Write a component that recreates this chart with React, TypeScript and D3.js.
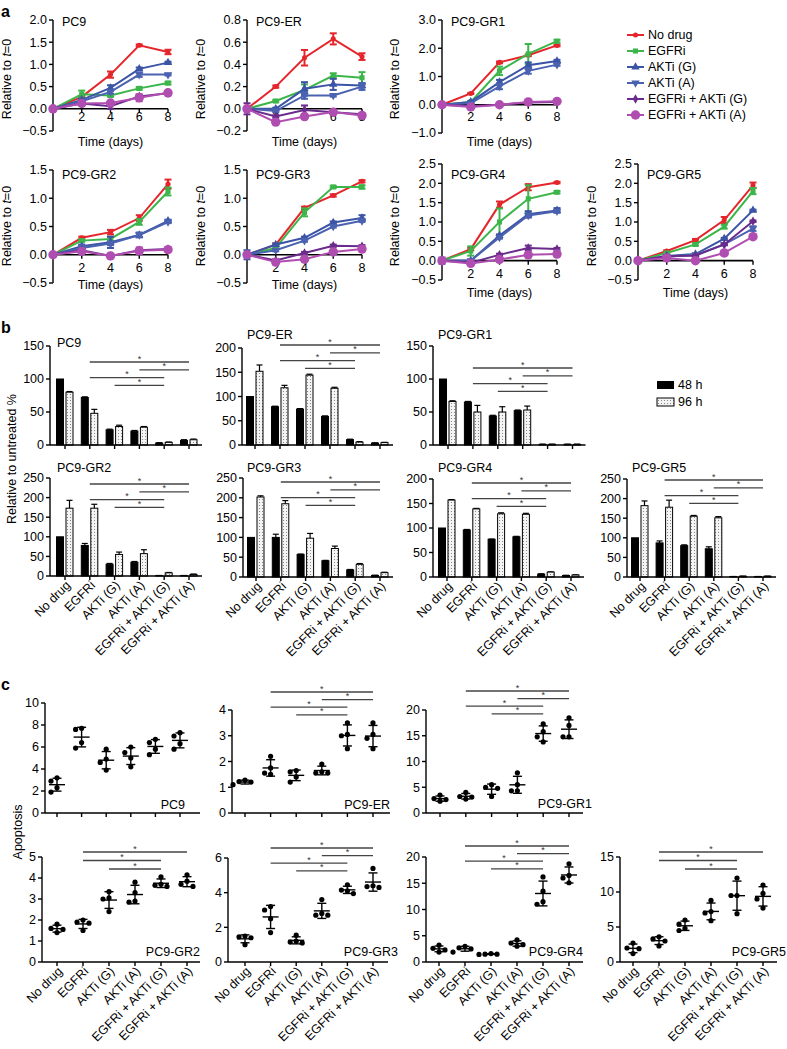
import React from "react";
import * as d3 from "d3";

const FONT = "'Liberation Sans', Arial, Helvetica, sans-serif";

// ---------- shared categories ----------
const days = [0, 2, 4, 6, 8];
const treatments = ["No drug", "EGFRi", "AKTi (G)", "AKTi (A)", "EGFRi + AKTi (G)", "EGFRi + AKTi (A)"];
const sigFour = [[1, 5], [3, 5], [1, 4], [2, 4]];
const sigThree = [[1, 5], [1, 4], [2, 4]];

// ---------- panel a: growth relative to t=0 (rows = treatments, cols = days) ----------
const gPC9 = [
  [0, 0.27, 0.77, 1.43, 1.28],
  [0, 0.33, 0.3, 0.46, 0.58],
  [0, 0.2, 0.47, 0.9, 1.04],
  [0, 0.17, 0.38, 0.77, 0.77],
  [0, 0.12, 0.06, 0.28, 0.35],
  [0, 0.12, 0.13, 0.25, 0.36],
];
const gPC9Err = [
  [0, 0.02, 0.07, 0.02, 0.05],
  [0, 0.08, 0.03, 0.03, 0.03],
  [0, 0.03, 0.06, 0.03, 0.02],
  [0, 0.03, 0.04, 0.05, 0.02],
  [0, 0.03, 0.06, 0.03, 0.03],
  [0, 0.03, 0.03, 0.08, 0.03],
];
const gER = [
  [0, 0.2, 0.46, 0.63, 0.47],
  [0, 0.07, 0.17, 0.3, 0.28],
  [0, 0.0, 0.18, 0.22, 0.21],
  [0, -0.02, 0.12, 0.12, 0.2],
  [0, -0.07, -0.01, -0.03, -0.05],
  [0, -0.12, -0.07, -0.03, -0.06],
];
const gERErr = [
  [0, 0.01, 0.07, 0.05, 0.03],
  [0, 0.01, 0.05, 0.02, 0.05],
  [0, 0.01, 0.06, 0.05, 0.02],
  [0, 0.01, 0.03, 0.01, 0.03],
  [0.05, 0.01, 0.04, 0.01, 0.01],
  [0, 0.01, 0.02, 0.01, 0.01],
];
const gGR1 = [
  [0, 0.4, 1.5, 1.75, 2.1],
  [0, 0.1, 1.2, 1.8, 2.25],
  [0, 0.1, 0.8, 1.4, 1.55],
  [0, 0.05, 0.65, 1.2, 1.42],
  [0, -0.05, 0.0, 0.08, 0.1],
  [0, -0.08, 0.0, 0.1, 0.12],
];
const gGR1Err = [
  [0, 0.02, 0.03, 0.03, 0.03],
  [0, 0.03, 0.15, 0.35, 0.05],
  [0, 0.03, 0.08, 0.1, 0.04],
  [0, 0.03, 0.1, 0.1, 0.04],
  [0, 0.02, 0.02, 0.02, 0.02],
  [0, 0.02, 0.02, 0.02, 0.02],
];
const gGR2 = [
  [0, 0.3, 0.4, 0.65, 1.25],
  [0, 0.25, 0.28, 0.58, 1.12],
  [0, 0.15, 0.22, 0.35, 0.6],
  [0, 0.12, 0.2, 0.35, 0.58],
  [0, 0.08, -0.02, 0.08, 0.1],
  [0, 0.06, -0.02, 0.07, 0.09],
];
const gGR2Err = [
  [0, 0.02, 0.04, 0.05, 0.08],
  [0, 0.02, 0.03, 0.05, 0.07],
  [0, 0.03, 0.1, 0.04, 0.02],
  [0, 0.05, 0.03, 0.04, 0.02],
  [0, 0.02, 0.02, 0.02, 0.02],
  [0, 0.02, 0.02, 0.06, 0.03],
];
const gGR3 = [
  [0, 0.18, 0.83, 1.05, 1.3],
  [0, 0.12, 0.75, 1.2, 1.2],
  [0, 0.18, 0.3, 0.57, 0.65],
  [0, 0.08, 0.25, 0.5, 0.6],
  [0, -0.1, 0.03, 0.16, 0.15],
  [0, -0.13, -0.08, 0.05, 0.1],
];
const gGR3Err = [
  [0, 0.02, 0.02, 0.02, 0.02],
  [0, 0.02, 0.07, 0.02, 0.03],
  [0.08, 0.02, 0.02, 0.02, 0.05],
  [0, 0.02, 0.02, 0.02, 0.02],
  [0, 0.02, 0.02, 0.02, 0.02],
  [0, 0.02, 0.02, 0.02, 0.02],
];
const gGR4 = [
  [0, 0.3, 1.45, 1.9, 2.02],
  [0, 0.25, 1.0, 1.6, 1.77],
  [0, 0.0, 0.65, 1.2, 1.3],
  [0, 0.0, 0.6, 1.17, 1.28],
  [0, -0.05, 0.15, 0.33, 0.3],
  [0, -0.07, 0.03, 0.15, 0.17],
];
const gGR4Err = [
  [0, 0.03, 0.08, 0.08, 0.02],
  [0, 0.12, 0.35, 0.35, 0.03],
  [0.08, 0.02, 0.03, 0.08, 0.06],
  [0, 0.02, 0.03, 0.05, 0.03],
  [0, 0.02, 0.03, 0.06, 0.03],
  [0, 0.02, 0.02, 0.03, 0.02],
];
const gGR5 = [
  [0, 0.25, 0.53, 1.05, 1.95],
  [0, 0.2, 0.42, 0.88, 1.8],
  [0, 0.12, 0.17, 0.57, 1.3],
  [0, 0.1, 0.15, 0.42, 0.83],
  [0, 0.12, 0.13, 0.42, 1.02],
  [0, 0.07, 0.0, 0.2, 0.62],
];
const gGR5Err = [
  [0, 0.02, 0.03, 0.08, 0.07],
  [0, 0.02, 0.03, 0.05, 0.08],
  [0, 0.02, 0.02, 0.02, 0.02],
  [0, 0.02, 0.02, 0.02, 0.06],
  [0, 0.02, 0.02, 0.02, 0.02],
  [0, 0.02, 0.02, 0.04, 0.04],
];

// ---------- panel b: relative to untreated % ----------
const v48PC9 = [100, 72, 23, 21, 3, 7];
const e48PC9 = [0, 1, 1, 1, 0.5, 1];
const v96PC9 = [80, 48, 28, 27, 4, 8];
const e96PC9 = [1, 6, 2, 1, 0.5, 1];
const v48ER = [100, 79, 74, 59, 11, 4];
const e48ER = [0, 1, 1, 1, 1, 0.5];
const v96ER = [152, 118, 144, 117, 6, 5];
const e96ER = [13, 5, 2, 2, 1, 0.5];
const v48GR1 = [100, 65, 44, 52, 1, 1];
const e48GR1 = [0, 1, 1, 1, 0.3, 0.3];
const v96GR1 = [66, 50, 50, 53, 1, 1];
const e96GR1 = [1, 10, 8, 6, 0.3, 0.3];
const v48GR2 = [100, 78, 30, 35, 1, 1];
const e48GR2 = [0, 5, 2, 2, 0.3, 0.3];
const v96GR2 = [173, 173, 55, 57, 8, 4];
const e96GR2 = [20, 10, 6, 10, 1, 1];
const v48GR3 = [100, 100, 57, 41, 18, 4];
const e48GR3 = [0, 8, 1, 1, 1, 0.5];
const v96GR3 = [202, 185, 98, 72, 32, 11];
const e96GR3 = [3, 8, 12, 6, 2, 1];
const v48GR4 = [100, 96, 77, 82, 6, 3];
const e48GR4 = [0, 1, 0.5, 1, 0.5, 0.5];
const v96GR4 = [157, 139, 129, 128, 10, 4];
const e96GR4 = [1, 1, 2, 2, 0.5, 0.5];
const v48GR5 = [100, 87, 80, 72, 1, 1];
const e48GR5 = [0, 5, 2, 5, 0.3, 0.3];
const v96GR5 = [182, 178, 155, 151, 2, 2];
const e96GR5 = [12, 18, 2, 3, 0.3, 0.3];

// ---------- panel c: apoptosis (4 replicates per treatment) ----------
const apoPC9 = [
  [3.2, 2.9, 2.3, 1.9],
  [7.7, 7.6, 6.4, 5.9],
  [5.8, 4.9, 4.6, 3.9],
  [6.0, 5.5, 5.0, 4.2],
  [6.7, 6.4, 5.8, 5.3],
  [7.3, 7.0, 6.3, 5.8],
];
const apoER = [
  [1.28, 1.22, 1.2, 1.1],
  [2.2, 1.75, 1.55, 1.5],
  [1.65, 1.6, 1.4, 1.2],
  [1.9, 1.6, 1.55, 1.55],
  [3.5, 3.05, 3.0, 2.5],
  [3.5, 3.05, 2.9, 2.5],
];
const apoGR1 = [
  [3.5, 2.8, 2.6, 2.3],
  [4.0, 3.2, 3.1, 2.7],
  [5.5, 5.0, 4.8, 3.2],
  [7.8, 5.5, 4.3, 4.3],
  [17.3, 15.8, 14.8, 13.8],
  [18.5, 17.0, 14.8, 14.8],
];
const apoGR2 = [
  [1.8, 1.6, 1.55, 1.4],
  [2.0, 1.9, 1.85, 1.5],
  [3.35, 3.05, 3.0, 2.4],
  [3.8, 3.3, 2.9, 2.85],
  [4.05, 3.7, 3.65, 3.6],
  [4.15, 3.85, 3.7, 3.6],
];
const apoGR3 = [
  [1.5, 1.45, 1.4, 1.0],
  [3.2, 3.0, 2.5, 1.7],
  [1.55, 1.2, 1.15, 1.1],
  [3.6, 2.8, 2.7, 2.7],
  [4.45, 4.15, 4.1, 3.95],
  [5.4, 4.4, 4.35, 4.3],
];
const apoGR4 = [
  [3.2, 2.6, 2.3, 1.9],
  [3.0, 2.7, 2.5, 1.9],
  [1.6, 1.5, 1.5, 1.45],
  [4.2, 3.6, 3.3, 3.0],
  [16.2, 13.5, 11.5, 11.0],
  [18.7, 16.5, 16.0, 15.1],
];
const apoGR5 = [
  [2.7, 2.0, 1.9, 1.2],
  [3.6, 3.3, 3.0, 2.3],
  [6.0, 5.4, 4.8, 4.5],
  [8.8, 7.2, 7.0, 5.9],
  [12.0, 9.5, 9.5, 6.9],
  [11.0, 9.8, 9.0, 7.7],
];

// ---------- styles ----------
const lineColors = ["#e4262c", "#3cb54b", "#3b54a5", "#4a62b0", "#6b2b8c", "#b04db1"];
const symbolTypes = [d3.symbolCircle, d3.symbolSquare, d3.symbolTriangle, d3.symbolTriangle, d3.symbolDiamond, d3.symbolCircle];
const symbolSizes = [20, 26, 30, 30, 26, 70];
const symbolRot = [0, 0, 0, 180, 0, 0];

// ---------- layouts ----------
const aLayout = [
  { name: "PC9", vals: gPC9, errs: gPC9Err, left: 53, top: 20, bottom: 131, dom: [-0.5, 2], step: 0.5, tickY: 121, timeY: 146, titleY: 26, labX: 11, labY: 79 },
  { name: "PC9-ER", vals: gER, errs: gERErr, left: 247, top: 20, bottom: 131, dom: [-0.2, 0.8], step: 0.2, tickY: 121, timeY: 146, titleY: 26, labX: 205, labY: 79 },
  { name: "PC9-GR1", vals: gGR1, errs: gGR1Err, left: 442, top: 20, bottom: 133, dom: [-1, 3], step: 1, tickY: 121, timeY: 146, titleY: 26, labX: 399, labY: 79 },
  { name: "PC9-GR2", vals: gGR2, errs: gGR2Err, left: 53, top: 170, bottom: 283, dom: [-0.5, 1.5], step: 0.5, tickY: 272, timeY: 289, titleY: 179, labX: 11, labY: 226 },
  { name: "PC9-GR3", vals: gGR3, errs: gGR3Err, left: 247, top: 170, bottom: 283, dom: [-0.5, 1.5], step: 0.5, tickY: 272, timeY: 289, titleY: 179, labX: 205, labY: 226 },
  { name: "PC9-GR4", vals: gGR4, errs: gGR4Err, left: 442, top: 164, bottom: 280, dom: [-0.5, 2.5], step: 0.5, tickY: 278, timeY: 297, titleY: 179, labX: 399, labY: 226 },
  { name: "PC9-GR5", vals: gGR5, errs: gGR5Err, left: 638, top: 164, bottom: 280, dom: [-0.5, 2.5], step: 0.5, tickY: 278, timeY: 297, titleY: 179, labX: 596, labY: 226 },
];

const bLayout = [
  { name: "PC9", v48: v48PC9, e48: e48PC9, v96: v96PC9, e96: e96PC9, left: 50, y0: 445, yTop: 346, max: 150, t0: 65, dt: 24.8, tx: 57, ty: 347, sigY: 362, labels: false },
  { name: "PC9-ER", v48: v48ER, e48: e48ER, v96: v96ER, e96: e96ER, left: 242, y0: 445, yTop: 348, max: 200, t0: 255, dt: 25, tx: 247, ty: 339, sigY: 345, labels: false },
  { name: "PC9-GR1", v48: v48GR1, e48: e48GR1, v96: v96GR1, e96: e96GR1, left: 433, y0: 445, yTop: 346, max: 150, t0: 448, dt: 24.9, tx: 438, ty: 339, sigY: 368, labels: false },
  { name: "PC9-GR2", v48: v48GR2, e48: e48GR2, v96: v96GR2, e96: e96GR2, left: 50, y0: 576, yTop: 478, max: 250, t0: 65, dt: 24.8, tx: 57, ty: 472, sigY: 484, labels: true },
  { name: "PC9-GR3", v48: v48GR3, e48: e48GR3, v96: v96GR3, e96: e96GR3, left: 243, y0: 577, yTop: 478, max: 250, t0: 256, dt: 24.8, tx: 247, ty: 472, sigY: 482, labels: true },
  { name: "PC9-GR4", v48: v48GR4, e48: e48GR4, v96: v96GR4, e96: e96GR4, left: 433, y0: 577, yTop: 479, max: 200, t0: 447, dt: 24.8, tx: 438, ty: 472, sigY: 483, labels: true },
  { name: "PC9-GR5", v48: v48GR5, e48: e48GR5, v96: v96GR5, e96: e96GR5, left: 627, y0: 577, yTop: 479, max: 250, t0: 640, dt: 24.6, tx: 632, ty: 472, sigY: 480, labels: true },
];

const cLayout = [
  { name: "PC9", vals: apoPC9, left: 45, y0: 813, yTop: 703, max: 10, step: 2, t0: 57, dt: 24.6, end: 200, lx: 185, ly: 809, sig: null, sigY: 0, labels: false },
  { name: "PC9-ER", vals: apoER, left: 232, y0: 813, yTop: 710, max: 4, step: 1, t0: 245, dt: 25.6, end: 390, lx: 390, ly: 809, sig: sigFour, sigY: 692, labels: false },
  { name: "PC9-GR1", vals: apoGR1, left: 426, y0: 813, yTop: 710, max: 20, step: 5, t0: 440, dt: 25.8, end: 583, lx: 592, ly: 808, sig: sigFour, sigY: 691, labels: false },
  { name: "PC9-GR2", vals: apoGR2, left: 42, y0: 962, yTop: 857, max: 5, step: 1, t0: 57, dt: 26, end: 200, lx: 200, ly: 956, sig: sigThree, sigY: 852, labels: true },
  { name: "PC9-GR3", vals: apoGR3, left: 228, y0: 962, yTop: 858, max: 6, step: 2, t0: 245, dt: 25.6, end: 388, lx: 398, ly: 956, sig: sigFour, sigY: 848, labels: true },
  { name: "PC9-GR4", vals: apoGR4, left: 426, y0: 962, yTop: 857, max: 20, step: 5, t0: 439, dt: 26, end: 583, lx: 583, ly: 956, sig: sigFour, sigY: 846, labels: true },
  { name: "PC9-GR5", vals: apoGR5, left: 620, y0: 962, yTop: 857, max: 15, step: 5, t0: 633, dt: 26, end: 777, lx: 786, ly: 956, sig: sigThree, sigY: 852, labels: true },
];

const FS = 12.5;

function Marker({ i, x, y }: { i: number; x: number; y: number }) {
  const path = d3.symbol().type(symbolTypes[i]).size(symbolSizes[i])() as string;
  return <path d={path} transform={`translate(${x},${y}) rotate(${symbolRot[i]})`} fill={lineColors[i]} />;
}

function GrowthPanel({ p }: { p: any }) {
  const x = d3.scaleLinear().domain([0, 8]).range([p.left, p.left + 115]);
  const y = d3.scaleLinear().domain(p.dom).range([p.bottom, p.top]);
  const n = Math.round((p.dom[1] - p.dom[0]) / p.step);
  const yt = d3.range(n + 1).map((i) => Math.round((p.dom[0] + i * p.step) * 1000) / 1000 + 0);
  const fmt = d3.format(".1f");
  const line = d3.line<number>().x((_, i) => x(days[i])).y((v) => y(v));
  return (
    <g>
      <text x={p.left + 9} y={p.titleY} fontSize={FS}>{p.name}</text>
      <text transform={`translate(${p.labX},${p.labY}) rotate(-90)`} textAnchor="middle" fontSize={FS}>
        Relative to <tspan fontStyle="italic">t</tspan>=0
      </text>
      <line x1={p.left} x2={p.left} y1={y(p.dom[0])} y2={y(p.dom[1])} stroke="#000" strokeWidth={1.4} />
      {yt.map((t) => (
        <g key={t}>
          <line x1={p.left - 4} x2={p.left} y1={y(t)} y2={y(t)} stroke="#000" strokeWidth={1.4} />
          <text x={p.left - 6} y={y(t)} dy="0.35em" textAnchor="end" fontSize={FS}>{fmt(t)}</text>
        </g>
      ))}
      <line x1={x(0)} x2={x(8)} y1={y(0)} y2={y(0)} stroke="#000" strokeWidth={1.6} />
      {[2, 4, 6, 8].map((d) => (
        <g key={d}>
          <line x1={x(d)} x2={x(d)} y1={y(0)} y2={y(0) + 4} stroke="#000" strokeWidth={1.4} />
          <text x={x(d)} y={p.tickY} textAnchor="middle" fontSize={FS}>{d}</text>
        </g>
      ))}
      <text x={x(4)} y={p.timeY} textAnchor="middle" fontSize={FS}>Time (days)</text>
      {p.vals.map((vals: number[], ti: number) => (
        <g key={ti}>
          <path d={line(vals) as string} fill="none" stroke={lineColors[ti]} strokeWidth={2} />
          {vals.map((v, di) => {
            const e = p.errs[ti][di];
            if (!e) return null;
            const cx = x(days[di]);
            return (
              <g key={"e" + di} stroke={lineColors[ti]} strokeWidth={2}>
                <line x1={cx} x2={cx} y1={y(v - e)} y2={y(v + e)} />
                <line x1={cx - 3.5} x2={cx + 3.5} y1={y(v - e)} y2={y(v - e)} />
                <line x1={cx - 3.5} x2={cx + 3.5} y1={y(v + e)} y2={y(v + e)} />
              </g>
            );
          })}
          {vals.map((v, di) => (
            <Marker key={"m" + di} i={ti} x={x(days[di])} y={y(v)} />
          ))}
        </g>
      ))}
    </g>
  );
}

function SigLines({ pairs, x, top, gap }: { pairs: number[][]; x: (i: number) => number; top: number; gap: number }) {
  return (
    <g>
      {pairs.map(([a, b], k) => {
        const yy = top + k * gap;
        const x1 = x(a), x2 = x(b);
        return (
          <g key={k}>
            <line x1={x1} x2={x2} y1={yy} y2={yy} stroke="#444" strokeWidth={1.3} />
            <text x={(x1 + x2) / 2} y={yy - 0.5} textAnchor="middle" fontSize={9} fill="#333">*</text>
          </g>
        );
      })}
    </g>
  );
}

function CatLabels({ x, y0 }: { x: d3.ScalePoint<string>; y0: number }) {
  return (
    <g>
      {treatments.map((t) => (
        <text key={t} transform={`translate(${(x(t) as number) + 3},${y0 + 7}) rotate(-45)`} textAnchor="end" dy="0.35em" fontSize={FS}>
          {t}
        </text>
      ))}
    </g>
  );
}

function BarPanel({ p }: { p: any }) {
  const x = d3.scalePoint<string>().domain(treatments).range([p.t0, p.t0 + 5 * p.dt]);
  const y = d3.scaleLinear().domain([0, p.max]).range([p.y0, p.yTop]);
  const yt = d3.range(0, p.max + 1, 50);
  const end = p.t0 + 5 * p.dt + 13;
  const bw = 7;
  const xi = (i: number) => x(treatments[i]) as number;
  const bars = (vals: number[], errs: number[], off: number, fill: string, stroke: string) =>
    vals.map((v, i) => {
      const bx = xi(i) + off;
      const cx = bx + bw / 2;
      return (
        <g key={i}>
          {errs[i] > 0 && (
            <g stroke="#000" strokeWidth={1.2}>
              <line x1={cx} x2={cx} y1={y(v)} y2={y(v + errs[i])} />
              <line x1={cx - 3} x2={cx + 3} y1={y(v + errs[i])} y2={y(v + errs[i])} />
            </g>
          )}
          <rect x={bx} y={y(v)} width={bw} height={p.y0 - y(v)} fill={fill} stroke={stroke} strokeWidth={1} />
        </g>
      );
    });
  return (
    <g>
      <text x={p.tx} y={p.ty} fontSize={FS}>{p.name}</text>
      <line x1={p.left} x2={p.left} y1={p.y0} y2={y(p.max)} stroke="#000" strokeWidth={1.4} />
      {yt.map((t) => (
        <g key={t}>
          <line x1={p.left - 4} x2={p.left} y1={y(t)} y2={y(t)} stroke="#000" strokeWidth={1.4} />
          <text x={p.left - 6} y={y(t)} dy="0.35em" textAnchor="end" fontSize={FS}>{t}</text>
        </g>
      ))}
      {bars(p.v48, p.e48, -8.5, "#000", "#000")}
      {bars(p.v96, p.e96, 1, "url(#dots)", "#000")}
      <line x1={p.left} x2={end} y1={p.y0} y2={p.y0} stroke="#000" strokeWidth={1.4} />
      {treatments.map((t) => (
        <line key={t} x1={x(t)} x2={x(t)} y1={p.y0} y2={p.y0 + 4} stroke="#000" strokeWidth={1.4} />
      ))}
      <SigLines pairs={sigFour} x={xi} top={p.sigY} gap={7.8} />
      {p.labels && <CatLabels x={x} y0={p.y0} />}
    </g>
  );
}

function dodge(vals: number[], y: (v: number) => number, r: number) {
  const order = d3.range(vals.length).sort((a, b) => vals[b] - vals[a]);
  const placed: { x: number; y: number }[] = [];
  const out: number[] = new Array(vals.length).fill(0);
  for (const i of order) {
    const py = y(vals[i]);
    for (const dx of [0, -6, 6, -12, 12]) {
      if (placed.every((q) => Math.hypot(q.x - dx, q.y - py) >= 2 * r + 0.6)) {
        out[i] = dx;
        placed.push({ x: dx, y: py });
        break;
      }
    }
  }
  return out;
}

function DotPanel({ p }: { p: any }) {
  const x = d3.scalePoint<string>().domain(treatments).range([p.t0, p.t0 + 5 * p.dt]);
  const y = d3.scaleLinear().domain([0, p.max]).range([p.y0, p.yTop]);
  const yt = d3.range(0, p.max + 0.001, p.step);
  const xi = (i: number) => x(treatments[i]) as number;
  const r = 2.6;
  return (
    <g>
      <line x1={p.left} x2={p.left} y1={p.y0} y2={y(p.max)} stroke="#000" strokeWidth={1.4} />
      {yt.map((t) => (
        <g key={t}>
          <line x1={p.left - 4} x2={p.left} y1={y(t)} y2={y(t)} stroke="#000" strokeWidth={1.4} />
          <text x={p.left - 6} y={y(t)} dy="0.35em" textAnchor="end" fontSize={FS}>{t}</text>
        </g>
      ))}
      <line x1={p.left} x2={p.end} y1={p.y0} y2={p.y0} stroke="#000" strokeWidth={1.4} />
      {treatments.map((t) => (
        <line key={t} x1={x(t)} x2={x(t)} y1={p.y0} y2={p.y0 + 4} stroke="#000" strokeWidth={1.4} />
      ))}
      {p.vals.map((vals: number[], i: number) => {
        const cx = xi(i);
        const m = d3.mean(vals) as number;
        const sd = d3.deviation(vals) as number;
        const offs = dodge(vals, y, r);
        return (
          <g key={i}>
            {vals.map((v, k) => (
              <circle key={k} cx={cx + offs[k]} cy={y(v)} r={r} fill="#000" />
            ))}
            <g stroke="#000" strokeWidth={1.4}>
              <line x1={cx - 8} x2={cx + 8} y1={y(m)} y2={y(m)} />
              <line x1={cx} x2={cx} y1={y(m - sd)} y2={y(m + sd)} />
              <line x1={cx - 4.5} x2={cx + 4.5} y1={y(m - sd)} y2={y(m - sd)} />
              <line x1={cx - 4.5} x2={cx + 4.5} y1={y(m + sd)} y2={y(m + sd)} />
            </g>
          </g>
        );
      })}
      <text x={p.lx} y={p.ly} textAnchor="end" fontSize={FS}>{p.name}</text>
      {p.sig && <SigLines pairs={p.sig} x={xi} top={p.sigY} gap={p.sig.length === 3 ? 8.5 : 7.6} />}
      {p.labels && <CatLabels x={x} y0={p.y0} />}
    </g>
  );
}

export default function App() {
  return (
    <svg
      width={787}
      height={1049}
      style={{ position: "absolute", left: 0, top: 0, background: "#fff" }}
      fontFamily={FONT}
    >
      <defs>
        <pattern id="dots" width={3} height={3} patternUnits="userSpaceOnUse">
          <rect width={3} height={3} fill="#f4f4f4" />
          <rect x={1} y={1} width={1} height={1} fill="#8a8a8a" />
        </pattern>
      </defs>
      <rect width={787} height={1049} fill="#fff" />
      <text x={1} y={17} fontSize={16} fontWeight="bold">a</text>
      <text x={1} y={333} fontSize={16} fontWeight="bold">b</text>
      <text x={1} y={690} fontSize={16} fontWeight="bold">c</text>

      {aLayout.map((p) => (
        <GrowthPanel key={p.name} p={p} />
      ))}
      {/* legend a */}
      {treatments.map((t, i) => {
        const ly = 35 + i * 16;
        return (
          <g key={t}>
            <line x1={627} x2={644} y1={ly} y2={ly} stroke={lineColors[i]} strokeWidth={2} />
            <Marker i={i} x={635.5} y={ly} />
            <text x={648} y={ly} dy="0.35em" fontSize={FS}>{t}</text>
          </g>
        );
      })}

      <text transform="translate(16,459) rotate(-90)" textAnchor="middle" fontSize={FS}>Relative to untreated %</text>
      {bLayout.map((p) => (
        <BarPanel key={p.name} p={p} />
      ))}
      {/* legend b */}
      <rect x={657} y={381} width={17} height={8} fill="#000" />
      <text x={678} y={385} dy="0.35em" fontSize={FS}>48 h</text>
      <rect x={657} y={398} width={17} height={8} fill="url(#dots)" stroke="#000" strokeWidth={1} />
      <text x={678} y={402} dy="0.35em" fontSize={FS}>96 h</text>

      <text transform="translate(22,832) rotate(-90)" textAnchor="middle" fontSize={FS}>Apoptosis</text>
      {cLayout.map((p) => (
        <DotPanel key={p.name} p={p} />
      ))}
    </svg>
  );
}
